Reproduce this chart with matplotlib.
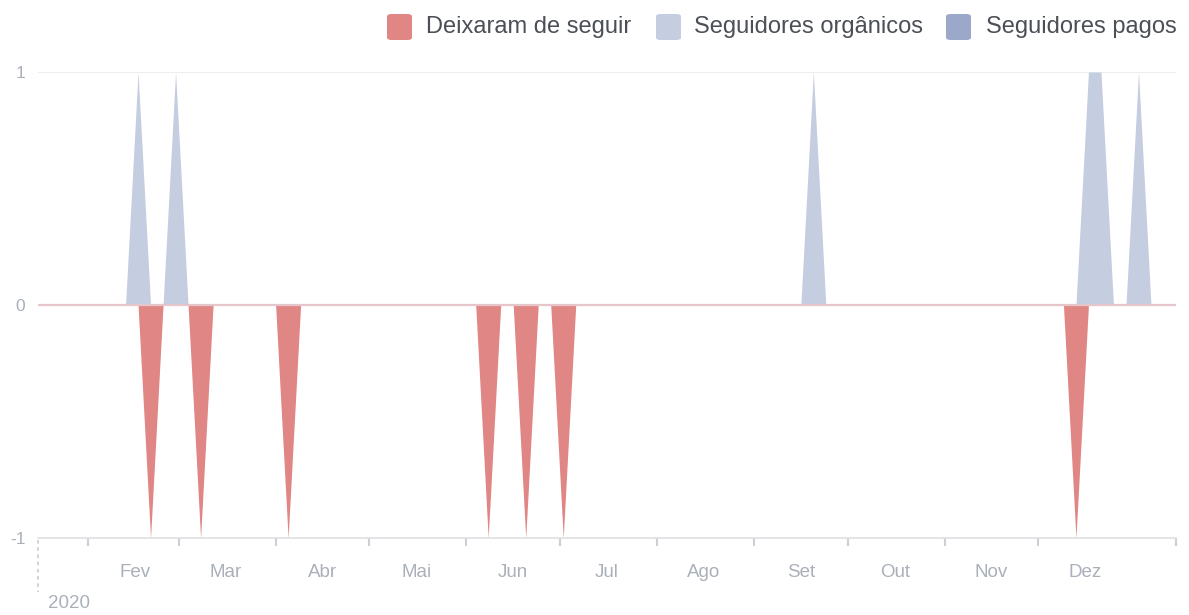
import numpy as np
import pandas as pd
import matplotlib
matplotlib.use("Agg")
import matplotlib.pyplot as plt
import matplotlib.dates as mdates
from matplotlib.patches import FancyBboxPatch
from matplotlib.lines import Line2D

# dados (um ponto a cada 4 dias)
inicio = "2020-01-16"
fim = "2021-01-14"
passo_dias = 4

organicos_datas = ["2020-02-17", "2020-02-29", "2020-09-20", "2020-12-17", "2020-12-21", "2021-01-02"]
organicos_valores = [1, 1, 1, 1, 1, 1]

deixaram_datas = ["2020-02-21", "2020-03-08", "2020-04-05", "2020-06-08", "2020-06-20", "2020-07-02", "2020-12-13"]
deixaram_valores = [-1, -1, -1, -1, -1, -1, -1]

pagos_datas = []
pagos_valores = []

meses = ["Fev", "Mar", "Abr", "Mai", "Jun", "Jul", "Ago", "Set", "Out", "Nov", "Dez"]
inicio_meses = ["2020-02-01", "2020-03-01", "2020-04-01", "2020-05-01", "2020-06-01", "2020-07-01",
                "2020-08-01", "2020-09-01", "2020-10-01", "2020-11-01", "2020-12-01"]
meio_meses = ["2020-02-16", "2020-03-16", "2020-04-16", "2020-05-16", "2020-06-16", "2020-07-16",
              "2020-08-16", "2020-09-16", "2020-10-16", "2020-11-16", "2020-12-16"]

legenda = ["Deixaram de seguir", "Seguidores orgânicos", "Seguidores pagos"]
cores = ["#e08684", "#c5cde0", "#9ba8c9"]

W, H = 1189, 615


def serie(datas, valores, grade):
    s = pd.Series(0.0, index=grade)
    for d, v in zip(datas, valores):
        s[pd.Timestamp(d)] = v
    return s


grade = pd.date_range(inicio, fim, freq=f"{passo_dias}D")
org = serie(organicos_datas, organicos_valores, grade)
dei = serie(deixaram_datas, deixaram_valores, grade)
pag = serie(pagos_datas, pagos_valores, grade)

fig = plt.figure(figsize=(W / 100, H / 100), dpi=100)
ax = fig.add_axes([38 / W, 1 - 538 / H, (1176 - 38) / W, (538 - 72) / H])

ax.fill_between(grade, 0, pag.values, color=cores[2], linewidth=0, zorder=2)
ax.fill_between(grade, 0, org.values, color=cores[1], linewidth=0, zorder=2)
ax.fill_between(grade, 0, dei.values, color=cores[0], linewidth=0, zorder=2)

ax.set_xlim(grade[0], grade[-1])
ax.set_ylim(-1, 1)

# linhas horizontais
ax.axhline(1, color="#e9ebee", lw=1.2, zorder=1)
ax.axhline(0, color="#e6c6ca", lw=1.6, zorder=3)

for lado in ["top", "right", "left"]:
    ax.spines[lado].set_visible(False)
ax.spines["bottom"].set_color("#dddfe2")
ax.spines["bottom"].set_linewidth(1.2)

ax.set_yticks([-1, 0, 1])
ax.set_yticklabels(["-1", "0", "1"])
ax.tick_params(axis="y", length=0, pad=9, labelsize=12.5, labelcolor="#aab0b9")

ticks_maj = [mdates.date2num(pd.Timestamp(d)) for d in inicio_meses] + [mdates.date2num(grade[-1])]
ax.set_xticks(ticks_maj)
ax.set_xticklabels([""] * len(ticks_maj))
ax.set_xticks([mdates.date2num(pd.Timestamp(d)) for d in meio_meses], minor=True)
ax.set_xticklabels(meses, minor=True)
ax.tick_params(axis="x", which="major", length=6, width=1.5, color="#ccd0d5")
ax.tick_params(axis="x", which="minor", length=0, pad=19, labelsize=13.5, labelcolor="#aab0b9")
for t in ax.get_xticklabels(minor=True) + ax.get_yticklabels():
    t.set_family("Liberation Sans")

# marcador do ano
fig.add_artist(Line2D([38 / W, 38 / W], [1 - 540 / H, 1 - 592 / H], color="#ccd0d5",
                      lw=1.3, ls=(0, (2, 2))))
fig.text(48 / W, 1 - 604 / H, "2020", ha="left", va="center", fontsize=13.5,
         color="#aab0b9", family="Liberation Sans")

# legenda
quad_x = [387, 656, 946]
texto_x = [426, 694, 986]
for i in range(3):
    fig.add_artist(FancyBboxPatch(((quad_x[i]) / W, 1 - 40 / H), 25 / W, 26 / H,
                                  boxstyle="round,pad=0,rounding_size=0.004",
                                  transform=fig.transFigure, color=cores[i], lw=0))
    fig.text(texto_x[i] / W, 1 - 27 / H, legenda[i], ha="left", va="center",
             fontsize=17, color="#4b4f56", family="Liberation Sans")

fig.savefig("out.png", dpi=100)
